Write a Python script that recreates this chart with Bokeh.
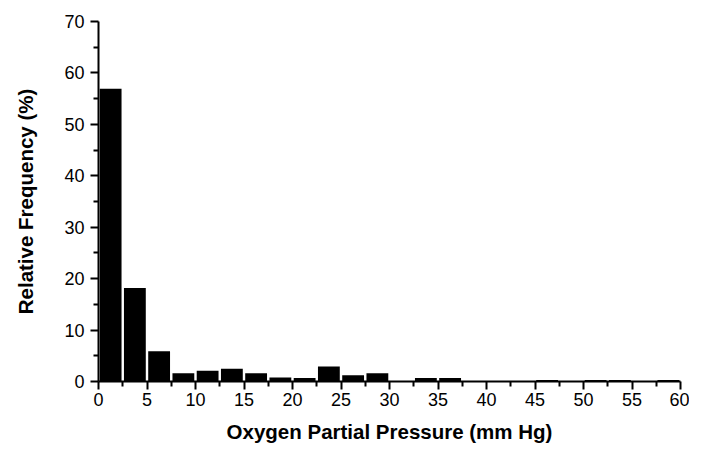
from bokeh.plotting import figure
from bokeh.models import Range1d, FixedTicker
from bokeh.embed import file_html
from bokeh.resources import INLINE

bin_edges = [0, 2.5, 5, 7.5, 10, 12.5, 15, 17.5, 20, 22.5, 25, 27.5, 30, 32.5, 35,
             37.5, 40, 42.5, 45, 47.5, 50, 52.5, 55, 57.5, 60]
rel_freq = [56.9, 18.2, 5.9, 1.6, 2.1, 2.5, 1.6, 0.8, 0.7, 2.9, 1.2, 1.6, 0.0, 0.7,
            0.7, 0.0, 0.0, 0.0, 0.3, 0.0, 0.3, 0.3, 0.0, 0.3]
x_ticks = [0, 5, 10, 15, 20, 25, 30, 35, 40, 45, 50, 55, 60]
y_ticks = [0, 10, 20, 30, 40, 50, 60, 70]

centers = [(a + b) / 2 for a, b in zip(bin_edges[:-1], bin_edges[1:])]
widths = [(b - a) * 0.9 for a, b in zip(bin_edges[:-1], bin_edges[1:])]

p = figure(width=689, height=445, output_backend="svg", toolbar_location=None,
           x_range=Range1d(0, 60), y_range=Range1d(0, 70),
           min_border_left=98, min_border_right=9, min_border_top=21, min_border_bottom=64)
p.outline_line_color = None
p.xgrid.visible = False
p.ygrid.visible = False

p.vbar(x=centers, width=widths, bottom=0, top=rel_freq,
       fill_color="black", line_color=None)

font = "Liberation Sans"
p.xaxis.ticker = FixedTicker(ticks=x_ticks, minor_ticks=[v + 2.5 for v in x_ticks[:-1]])
p.yaxis.ticker = FixedTicker(ticks=y_ticks, minor_ticks=[v + 5 for v in y_ticks[:-1]])
p.xaxis.axis_label = "Oxygen Partial Pressure (mm Hg)"
p.yaxis.axis_label = "Relative Frequency (%)"
for ax in (p.xaxis, p.yaxis):
    ax.axis_line_width = 2
    ax.axis_line_color = "black"
    ax.major_tick_line_width = 2
    ax.minor_tick_line_width = 2
    ax.major_tick_out = 8
    ax.major_tick_in = 0
    ax.minor_tick_out = 5
    ax.minor_tick_in = 0
    ax.major_label_text_font = font
    ax.major_label_text_font_size = "18px"
    ax.major_label_text_color = "black"
    ax.axis_label_text_font = font
    ax.axis_label_text_font_size = "20.5px"
    ax.axis_label_text_font_style = "bold"
    ax.axis_label_text_color = "black"
p.xaxis.major_label_standoff = 3
p.xaxis.axis_label_standoff = 11
p.yaxis.major_label_standoff = 6
p.yaxis.axis_label_standoff = 24

open("out.html", "w").write(file_html(p, INLINE))
